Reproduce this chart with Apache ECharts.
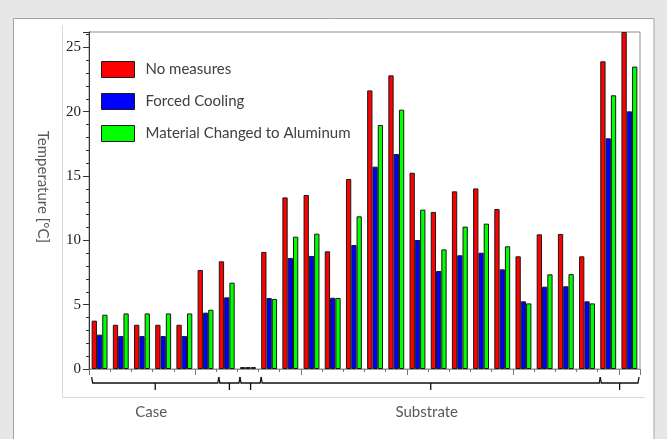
<!DOCTYPE html>
<html><head><meta charset="utf-8">
<script src="https://cdn.jsdelivr.net/npm/echarts@6/dist/echarts.min.js"></script>
<style>html,body{margin:0;padding:0;background:#e7e7e8;}#c{width:667px;height:439px;}</style>
</head><body><div id="c"></div>
<script>
const categories = ['1','2','3','4','5','6','7','8','9','10','11','12','13','14','15','16','17','18','19','20','21','22','23','24','25','26'];
const seriesNames = ['No measures', 'Forced Cooling', 'Material Changed to Aluminum'];
const noMeasures    = [3.76, 3.44, 3.44, 3.44, 3.44, 7.70, 8.37, 0.15, 9.10, 13.34, 13.53, 9.15, 14.77, 21.66, 22.83, 15.26, 12.21, 13.81, 14.04, 12.44, 8.76, 10.47, 10.50, 8.76, 23.92, 26.2];
const forcedCooling = [2.67, 2.56, 2.56, 2.56, 2.56, 4.38, 5.57, 0.15, 5.52, 8.63, 8.79, 5.54, 9.64, 15.73, 16.72, 10.03, 7.62, 8.84, 9.04, 7.75, 5.26, 6.40, 6.43, 5.26, 17.93, 20.03];
const aluminum      = [4.22, 4.32, 4.32, 4.32, 4.32, 4.61, 6.71, 0.15, 5.44, 10.29, 10.52, 5.52, 11.87, 18.97, 20.16, 12.39, 9.30, 11.07, 11.30, 9.54, 5.10, 7.36, 7.38, 5.10, 21.28, 23.51];
const yMin = 0, yMax = 26.2, yInterval = 5;
const groupSpans = [
  {label: 'Case', from: 0, to: 6},
  {label: '', from: 6, to: 7},
  {label: '', from: 7, to: 8},
  {label: 'Substrate', from: 8, to: 24},
  {label: '', from: 24, to: 26}
];
const colors = ['#ff0000', '#0000ff', '#00ff00'];
const sans = 'Lato, "Open Sans", sans-serif';

const chart = echarts.init(document.getElementById('c'), null, {renderer: 'canvas'});
const barW = 5.3;
const GRID = {left: 89, top: 32, right: 27, bottom: 70};

const mkSeries = (name, data, i) => ({
  name, type: 'bar', data, barWidth: barW, barGap: '0%', clip: true,
  itemStyle: {color: colors[i], borderColor: '#1a1a1a', borderWidth: 1},
  emphasis: {disabled: true}
});

const option = {
  backgroundColor: '#e7e7e8',
  animation: false,
  grid: {left: GRID.left, top: GRID.top, right: GRID.right, bottom: GRID.bottom, show: true, borderColor: '#8c8c8c', borderWidth: 1, backgroundColor: 'transparent'},
  legend: {
    orient: 'vertical', left: 101, top: 61, padding: 0, itemGap: 15,
    itemWidth: 33, itemHeight: 16, icon: 'rect',
    itemStyle: {borderColor: '#1a1a1a', borderWidth: 1},
    textStyle: {fontFamily: sans, fontSize: 15, color: '#404040', padding: [0, 0, 2, 6]},
    data: seriesNames
  },
  xAxis: [{
    type: 'category', data: categories, boundaryGap: true,
    axisLine: {show: true, lineStyle: {color: '#9a9a9a'}},
    axisTick: {show: true, interval: 0, length: 3, lineStyle: {color: '#777'}},
    axisLabel: {show: false}
  }, {
    type: 'category', data: categories, boundaryGap: true, position: 'bottom',
    axisLine: {show: false},
    axisTick: {show: true, interval: (i) => i % 5 === 0, length: 6, lineStyle: {color: '#777'}},
    axisLabel: {show: false}
  }],
  yAxis: {
    type: 'value', min: yMin, max: yMax, interval: yInterval,
    axisLine: {show: true, lineStyle: {color: '#333', width: 1}},
    axisTick: {show: true, length: 6, lineStyle: {color: '#333'}},
    minorTick: {show: true, splitNumber: 5, length: 3, lineStyle: {color: '#333'}},
    splitLine: {show: false},
    axisLabel: {fontFamily: '"Liberation Serif", serif', fontSize: 15, color: '#222', margin: 8, showMaxLabel: false}
  },
  series: [mkSeries(seriesNames[0], noMeasures, 0), mkSeries(seriesNames[1], forcedCooling, 1), mkSeries(seriesNames[2], aluminum, 2)]
};
chart.setOption(option);

// decorations positioned from the axes
const bottomY = chart.convertToPixel({yAxisIndex: 0}, 0);
const plotRight = 667 - GRID.right;
const c0 = chart.convertToPixel({xAxisIndex: 0}, 0);
const c1 = chart.convertToPixel({xAxisIndex: 0}, 1);
const band = c1 - c0;
const groupStart = (k) => c0 + k * band - 1.5 * barW;
const elements = [
  {type: 'rect', z: -100, shape: {x: 13.5, y: 18.5, width: 640.5, height: 440}, style: {fill: '#ffffff', stroke: '#a3a3a3', lineWidth: 1}},
  {type: 'polyline', z: -99, shape: {points: [[62.5, 25], [62.5, 397.5], [645, 397.5]]}, style: {stroke: '#dadada', lineWidth: 1, fill: null}},
  {type: 'text', z: 10, x: 43, y: 187, rotation: -Math.PI / 2,
   style: {text: 'Temperature [°C]', fontFamily: sans, fontSize: 15, fill: '#595959', align: 'center', verticalAlign: 'middle'}}
];
groupSpans.forEach(g => {
  const x1 = groupStart(g.from);
  const x2 = Math.min(groupStart(g.to), plotRight - 1);
  const xc = (x1 + x2) / 2;
  const yTop = bottomY + 8, yLine = bottomY + 14, yTick = bottomY + 21;
  elements.push({type: 'polyline', z: 10, shape: {points: [[x1, yTop], [x1 + 1, yLine], [x2 - 1, yLine], [x2, yTop]]}, style: {stroke: '#111', lineWidth: 1.3, fill: null}});
  elements.push({type: 'polyline', z: 10, shape: {points: [[xc, yLine], [xc, yTick]]}, style: {stroke: '#111', lineWidth: 1.3, fill: null}});
  if (g.label) {
    elements.push({type: 'text', z: 10, x: xc - 4, y: bottomY + 43,
      style: {text: g.label, fontFamily: sans, fontSize: 15, fill: '#595959', align: 'center', verticalAlign: 'middle'}});
  }
});
chart.setOption({graphic: {elements}});
</script></body></html>
